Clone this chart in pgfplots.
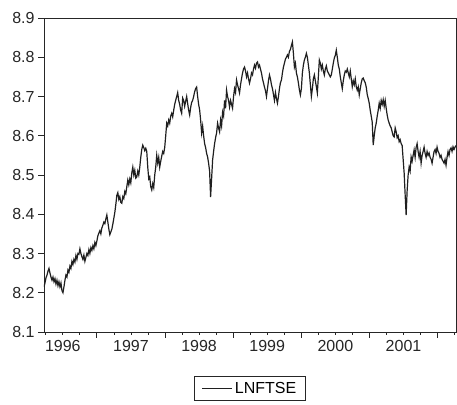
\documentclass[border=0pt]{standalone}
\usepackage{fontspec}
\setmainfont{Liberation Sans}
\usepackage{pgfplots}
\pgfplotsset{compat=1.18}
\usepackage{pgfplotstable}

% LNFTSE, regular sampling from 1996.224 to 2002.27
\pgfplotstableread[row sep=\\]{
v\\
8.215\\ 8.225\\ 8.238\\ 8.245\\ 8.255\\ 8.262\\ 8.250\\ 8.240\\ 8.232\\ 8.240\\
8.228\\ 8.236\\ 8.222\\ 8.232\\ 8.218\\ 8.228\\ 8.215\\ 8.225\\ 8.205\\ 8.200\\
8.215\\ 8.232\\ 8.245\\ 8.240\\ 8.258\\ 8.252\\ 8.268\\ 8.262\\ 8.280\\ 8.272\\
8.285\\ 8.278\\ 8.295\\ 8.285\\ 8.300\\ 8.298\\ 8.312\\ 8.300\\ 8.292\\ 8.285\\
8.296\\ 8.280\\ 8.290\\ 8.300\\ 8.295\\ 8.310\\ 8.300\\ 8.315\\ 8.308\\ 8.320\\
8.312\\ 8.328\\ 8.320\\ 8.332\\ 8.345\\ 8.352\\ 8.358\\ 8.350\\ 8.365\\ 8.372\\
8.380\\ 8.376\\ 8.388\\ 8.398\\ 8.380\\ 8.362\\ 8.348\\ 8.355\\ 8.362\\ 8.375\\
8.390\\ 8.405\\ 8.425\\ 8.448\\ 8.455\\ 8.438\\ 8.445\\ 8.430\\ 8.428\\ 8.445\\
8.440\\ 8.458\\ 8.452\\ 8.470\\ 8.487\\ 8.475\\ 8.490\\ 8.480\\ 8.505\\ 8.520\\
8.500\\ 8.512\\ 8.492\\ 8.495\\ 8.510\\ 8.500\\ 8.520\\ 8.545\\ 8.565\\ 8.576\\
8.570\\ 8.562\\ 8.568\\ 8.560\\ 8.520\\ 8.490\\ 8.495\\ 8.470\\ 8.462\\ 8.478\\
8.468\\ 8.500\\ 8.520\\ 8.550\\ 8.530\\ 8.545\\ 8.520\\ 8.535\\ 8.548\\ 8.560\\
8.555\\ 8.570\\ 8.600\\ 8.632\\ 8.625\\ 8.640\\ 8.632\\ 8.650\\ 8.657\\ 8.648\\
8.665\\ 8.680\\ 8.690\\ 8.700\\ 8.710\\ 8.690\\ 8.680\\ 8.665\\ 8.657\\ 8.696\\
8.690\\ 8.675\\ 8.688\\ 8.700\\ 8.682\\ 8.665\\ 8.653\\ 8.672\\ 8.685\\ 8.690\\
8.700\\ 8.712\\ 8.720\\ 8.724\\ 8.700\\ 8.680\\ 8.666\\ 8.640\\ 8.607\\ 8.625\\
8.600\\ 8.580\\ 8.570\\ 8.555\\ 8.546\\ 8.530\\ 8.510\\ 8.444\\ 8.490\\ 8.538\\
8.560\\ 8.580\\ 8.595\\ 8.607\\ 8.632\\ 8.620\\ 8.610\\ 8.640\\ 8.625\\ 8.660\\
8.650\\ 8.690\\ 8.670\\ 8.716\\ 8.700\\ 8.690\\ 8.673\\ 8.690\\ 8.680\\ 8.670\\
8.700\\ 8.720\\ 8.710\\ 8.742\\ 8.730\\ 8.720\\ 8.709\\ 8.730\\ 8.745\\ 8.760\\
8.770\\ 8.775\\ 8.765\\ 8.750\\ 8.760\\ 8.745\\ 8.734\\ 8.745\\ 8.760\\ 8.755\\
8.770\\ 8.780\\ 8.772\\ 8.785\\ 8.788\\ 8.775\\ 8.780\\ 8.770\\ 8.760\\ 8.745\\
8.735\\ 8.724\\ 8.715\\ 8.700\\ 8.720\\ 8.740\\ 8.755\\ 8.745\\ 8.730\\ 8.720\\
8.705\\ 8.690\\ 8.710\\ 8.695\\ 8.683\\ 8.700\\ 8.720\\ 8.735\\ 8.742\\ 8.760\\
8.775\\ 8.785\\ 8.795\\ 8.800\\ 8.806\\ 8.800\\ 8.815\\ 8.820\\ 8.830\\ 8.839\\
8.810\\ 8.775\\ 8.785\\ 8.760\\ 8.750\\ 8.735\\ 8.717\\ 8.704\\ 8.720\\ 8.760\\
8.780\\ 8.793\\ 8.800\\ 8.810\\ 8.800\\ 8.780\\ 8.760\\ 8.730\\ 8.700\\ 8.720\\
8.745\\ 8.755\\ 8.740\\ 8.725\\ 8.709\\ 8.750\\ 8.793\\ 8.785\\ 8.770\\ 8.780\\
8.765\\ 8.755\\ 8.770\\ 8.778\\ 8.765\\ 8.760\\ 8.755\\ 8.750\\ 8.755\\ 8.770\\
8.785\\ 8.798\\ 8.805\\ 8.818\\ 8.800\\ 8.780\\ 8.770\\ 8.750\\ 8.735\\ 8.720\\
8.740\\ 8.755\\ 8.765\\ 8.762\\ 8.770\\ 8.760\\ 8.750\\ 8.765\\ 8.745\\ 8.725\\
8.740\\ 8.730\\ 8.745\\ 8.725\\ 8.716\\ 8.725\\ 8.704\\ 8.720\\ 8.735\\ 8.745\\
8.747\\ 8.740\\ 8.735\\ 8.724\\ 8.705\\ 8.695\\ 8.683\\ 8.665\\ 8.650\\ 8.635\\
8.576\\ 8.600\\ 8.620\\ 8.632\\ 8.650\\ 8.665\\ 8.683\\ 8.670\\ 8.690\\ 8.680\\
8.692\\ 8.675\\ 8.690\\ 8.670\\ 8.653\\ 8.640\\ 8.632\\ 8.625\\ 8.620\\ 8.610\\
8.600\\ 8.597\\ 8.620\\ 8.610\\ 8.595\\ 8.600\\ 8.585\\ 8.590\\ 8.580\\ 8.575\\
8.540\\ 8.505\\ 8.450\\ 8.398\\ 8.460\\ 8.500\\ 8.520\\ 8.510\\ 8.546\\ 8.535\\
8.550\\ 8.564\\ 8.545\\ 8.570\\ 8.580\\ 8.560\\ 8.545\\ 8.560\\ 8.530\\ 8.550\\
8.560\\ 8.571\\ 8.555\\ 8.545\\ 8.560\\ 8.550\\ 8.556\\ 8.545\\ 8.540\\ 8.530\\
8.545\\ 8.560\\ 8.565\\ 8.555\\ 8.571\\ 8.560\\ 8.555\\ 8.545\\ 8.550\\ 8.540\\
8.535\\ 8.530\\ 8.540\\ 8.525\\ 8.545\\ 8.560\\ 8.550\\ 8.565\\ 8.569\\ 8.560\\
8.572\\ 8.565\\ 8.571\\ 8.575\\
}\lnftse

\begin{document}
\begin{tikzpicture}
\begin{axis}[
  scale only axis,
  width=412pt, height=314pt,
  xmin=1996.224, xmax=2002.27,
  ymin=8.1, ymax=8.9,
  axis line style={line width=0.8pt, black!85},
  tick align=outside,
  xtick pos=bottom, ytick pos=left,
  major tick length=6pt, minor tick length=3pt,
  tick style={line width=0.8pt, black!85},
  xtick={1997,1998,1999,2000,2001,2002},
  xticklabels={},
  minor xtick={1996.25,1996.5,1996.75,1997.25,1997.5,1997.75,1998.25,1998.5,1998.75,
    1999.25,1999.5,1999.75,2000.25,2000.5,2000.75,2001.25,2001.5,2001.75,2002.25},
  extra x ticks={1996.5,1997.5,1998.5,1999.5,2000.5,2001.5},
  extra x tick labels={1996,1997,1998,1999,2000,2001},
  extra x tick style={major tick length=0pt, xticklabel style={yshift=-5pt}},
  ytick={8.1,8.2,8.3,8.4,8.5,8.6,8.7,8.8,8.9},
  yticklabel style={/pgf/number format/.cd, fixed, fixed zerofill, precision=1},
  /pgf/number format/assume math mode=true,
  tick label style={font=\fontsize{16}{18}\selectfont, text=black!85},
  legend style={at={(0.5,-0.14)}, anchor=north, draw=black!85, line width=0.8pt,
    font=\fontsize{16}{18}\selectfont, inner xsep=7pt, inner ysep=3.5pt},
  legend image code/.code={\draw[#1] (0pt,0pt) -- (30pt,0pt);},
]
\addplot[black!88, line width=1.2pt] table[x expr={1996.224+\coordindex*0.01464}, y=v] {\lnftse};
\addlegendentry{LNFTSE}
\coordinate (sw) at (rel axis cs:0,0);
\coordinate (ne) at (rel axis cs:1,1);
\end{axis}
\pgfresetboundingbox
\path[use as bounding box] ([shift={(-44pt,-73pt)}]sw) rectangle ([shift={(1pt,18pt)}]ne);
\end{tikzpicture}
\end{document}
